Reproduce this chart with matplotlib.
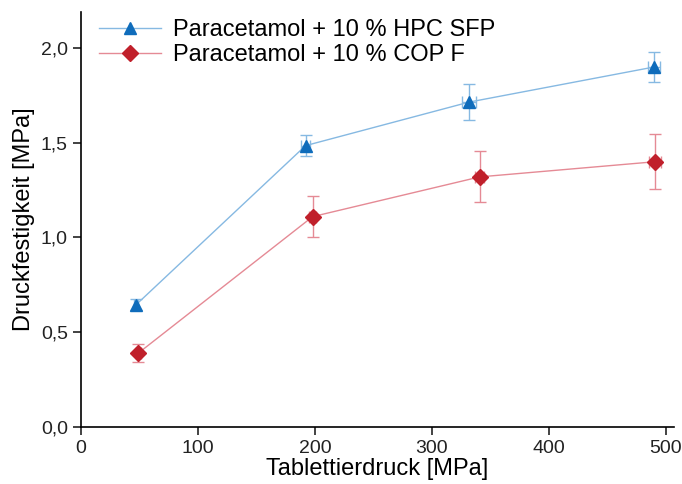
import matplotlib
matplotlib.use("Agg")
import matplotlib.pyplot as plt
from matplotlib.ticker import FuncFormatter
from matplotlib.lines import Line2D

plt.rcParams['font.family'] = ['Liberation Sans', 'DejaVu Sans']

# Paracetamol + 10 % HPC SFP
hpc_x = [47, 192, 332, 490]
hpc_y = [0.645, 1.485, 1.715, 1.90]
hpc_yerr = [0.03, 0.055, 0.095, 0.08]
hpc_xerr = [2, 4, 6, 5]

# Paracetamol + 10 % COP F
cop_x = [49, 198, 341, 491]
cop_y = [0.39, 1.11, 1.32, 1.40]
cop_yerr = [0.05, 0.11, 0.135, 0.145]
cop_xerr = [2, 3, 4, 5]

labels = ['Paracetamol + 10 % HPC SFP', 'Paracetamol + 10 % COP F']

fig = plt.figure(figsize=(6.82, 4.84), dpi=100)
ax = fig.add_axes([0.119, 0.118, 0.869, 0.857])

blue_style = dict(color='#86b9e2', lw=1, marker='^', ms=9, mfc='#0f6cbb', mec='#0f6cbb')
red_style = dict(color='#e58a95', lw=1, marker='D', ms=8, mfc='#c0202b', mec='#c0202b')

ax.errorbar(hpc_x, hpc_y, yerr=hpc_yerr, xerr=hpc_xerr, capsize=4, elinewidth=1, **blue_style)
ax.errorbar(cop_x, cop_y, yerr=cop_yerr, xerr=cop_xerr, capsize=4, elinewidth=1, **red_style)

ax.set_xlim(0, 507)
ax.set_ylim(0, 2.19)
ax.set_xticks([0, 100, 200, 300, 400, 500])
ax.set_yticks([0, 0.5, 1.0, 1.5, 2.0])
ax.yaxis.set_major_formatter(FuncFormatter(lambda v, p: f"{v:.1f}".replace('.', ',')))
ax.tick_params(direction='out', length=6, width=1.2, labelsize=14, colors='#222222')
for s in ['top', 'right']:
    ax.spines[s].set_visible(False)
for s in ['left', 'bottom']:
    ax.spines[s].set_linewidth(1.2)

ax.set_xlabel('Tablettierdruck [MPa]', fontsize=17, labelpad=1)
ax.set_ylabel('Druckfestigkeit [MPa]', fontsize=17, labelpad=4)

handles = [Line2D([], [], **blue_style), Line2D([], [], **red_style)]
ax.legend(handles, labels, loc='upper left', bbox_to_anchor=(-0.005, 1.035), frameon=False,
          fontsize=17, handlelength=2.6, handletextpad=0.5, labelspacing=0.15)

fig.savefig('out.png', dpi=100)
